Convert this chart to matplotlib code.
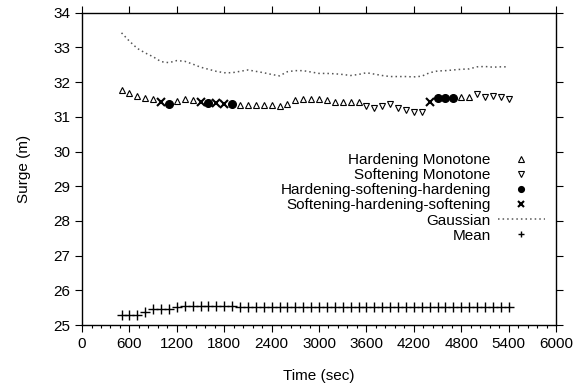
import matplotlib
matplotlib.use('Agg')
import matplotlib.pyplot as plt
import numpy as np
from matplotlib.ticker import MultipleLocator, AutoMinorLocator

plt.rcParams['font.family'] = ['Liberation Sans', 'DejaVu Sans']
plt.rcParams['font.size'] = 11

# time stamps (sec)
times = [500, 600, 700, 800, 900, 1000, 1100, 1200, 1300, 1400,
         1500, 1600, 1700, 1800, 1900, 2000, 2100, 2200, 2300, 2400,
         2500, 2600, 2700, 2800, 2900, 3000, 3100, 3200, 3300, 3400,
         3500, 3600, 3700, 3800, 3900, 4000, 4100, 4200, 4300, 4400,
         4500, 4600, 4700, 4800, 4900, 5000, 5100, 5200, 5300, 5400]

# surge of the classified series and its class at each time
# H = hardening monotone, S = softening monotone,
# HSH = hardening-softening-hardening, SHS = softening-hardening-softening
surge = [31.78, 31.68, 31.60, 31.53, 31.50, 31.44, 31.36, 31.46, 31.52, 31.48,
         31.42, 31.39, 31.40, 31.38, 31.37, 31.34, 31.34, 31.34, 31.34, 31.34,
         31.31, 31.36, 31.48, 31.52, 31.52, 31.52, 31.47, 31.43, 31.43, 31.42,
         31.42, 31.30, 31.25, 31.31, 31.36, 31.25, 31.20, 31.15, 31.15, 31.43,
         31.53, 31.54, 31.54, 31.58, 31.58, 31.66, 31.58, 31.60, 31.56, 31.52]
kind = ['H', 'H', 'H', 'H', 'H', 'SHS', 'HSH', 'H', 'H', 'H',
        'SHS', 'HSH', 'SHS', 'SHS', 'HSH', 'H', 'H', 'H', 'H', 'H',
        'H', 'H', 'H', 'H', 'H', 'H', 'H', 'H', 'H', 'H',
        'H', 'S', 'S', 'S', 'S', 'S', 'S', 'S', 'S', 'SHS',
        'HSH', 'HSH', 'HSH', 'H', 'H', 'S', 'S', 'S', 'S', 'S']

gaussian = [33.42, 33.18, 32.97, 32.84, 32.73, 32.59, 32.56, 32.62, 32.60, 32.52,
            32.43, 32.37, 32.31, 32.27, 32.27, 32.31, 32.35, 32.31, 32.27, 32.22,
            32.18, 32.30, 32.33, 32.33, 32.29, 32.25, 32.25, 32.24, 32.22, 32.19,
            32.22, 32.27, 32.23, 32.19, 32.16, 32.16, 32.16, 32.15, 32.17, 32.27,
            32.32, 32.33, 32.35, 32.37, 32.38, 32.44, 32.45, 32.43, 32.44, 32.44]

mean = [25.30, 25.30, 25.30, 25.38, 25.46, 25.46, 25.46, 25.51, 25.55, 25.55,
        25.55, 25.55, 25.55, 25.55, 25.55, 25.52, 25.52, 25.52, 25.52, 25.52,
        25.52, 25.52, 25.52, 25.52, 25.52, 25.52, 25.52, 25.52, 25.52, 25.52,
        25.52, 25.52, 25.52, 25.52, 25.52, 25.52, 25.52, 25.52, 25.52, 25.52,
        25.52, 25.52, 25.52, 25.52, 25.52, 25.52, 25.52, 25.52, 25.52, 25.52]

t = np.array(times)
s = np.array(surge)
k = np.array(kind)

fig = plt.figure(figsize=(5.76, 3.92), dpi=100)
ax = fig.add_axes([0.1424, 0.1709, 0.8229, 0.7967])

ax.plot(t[k == 'H'], s[k == 'H'], ls='none', marker='^', ms=5, mfc='white',
        mec='black', mew=0.8, label='Hardening Monotone')
ax.plot(t[k == 'S'], s[k == 'S'], ls='none', marker='v', ms=5, mfc='white',
        mec='black', mew=0.8, label='Softening Monotone')
ax.plot(t[k == 'HSH'], s[k == 'HSH'], ls='none', marker='o', ms=5.5,
        color='black', label='Hardening-softening-hardening')
ax.plot(t[k == 'SHS'], s[k == 'SHS'], ls='none', marker='x', ms=5.5,
        color='black', mew=1.5, label='Softening-hardening-softening')
ax.plot(t, gaussian, color='#555555', lw=1.1, ls=(0, (1, 2)), label='Gaussian')
ax.plot(t, mean, ls='none', marker='+', ms=6.5, color='black', mew=1,
        label='Mean')

ax.set_xlim(0, 6000)
ax.set_ylim(25, 34)
ax.xaxis.set_major_locator(MultipleLocator(600))
ax.xaxis.set_minor_locator(AutoMinorLocator(5))
ax.yaxis.set_major_locator(MultipleLocator(1))
ax.tick_params(which='major', direction='out', top=True, right=True,
               length=5, width=0.8, labelsize=11)
ax.tick_params(which='minor', direction='out', top=False, right=False,
               length=2.5, width=0.8)
for sp in ax.spines.values():
    sp.set_linewidth(1)

ax.set_xlabel('Time (sec)', fontsize=11, labelpad=13)
ax.set_ylabel('Surge (m)', fontsize=11, labelpad=16)

leg = ax.legend(loc='upper right', bbox_to_anchor=(0.977, 0.55), frameon=False,
                markerfirst=False, handlelength=3.1, handletextpad=0.45,
                labelspacing=0.07, borderpad=0, borderaxespad=0,
                fontsize=11, markerscale=0.75)

fig.savefig('out.png', dpi=100)
